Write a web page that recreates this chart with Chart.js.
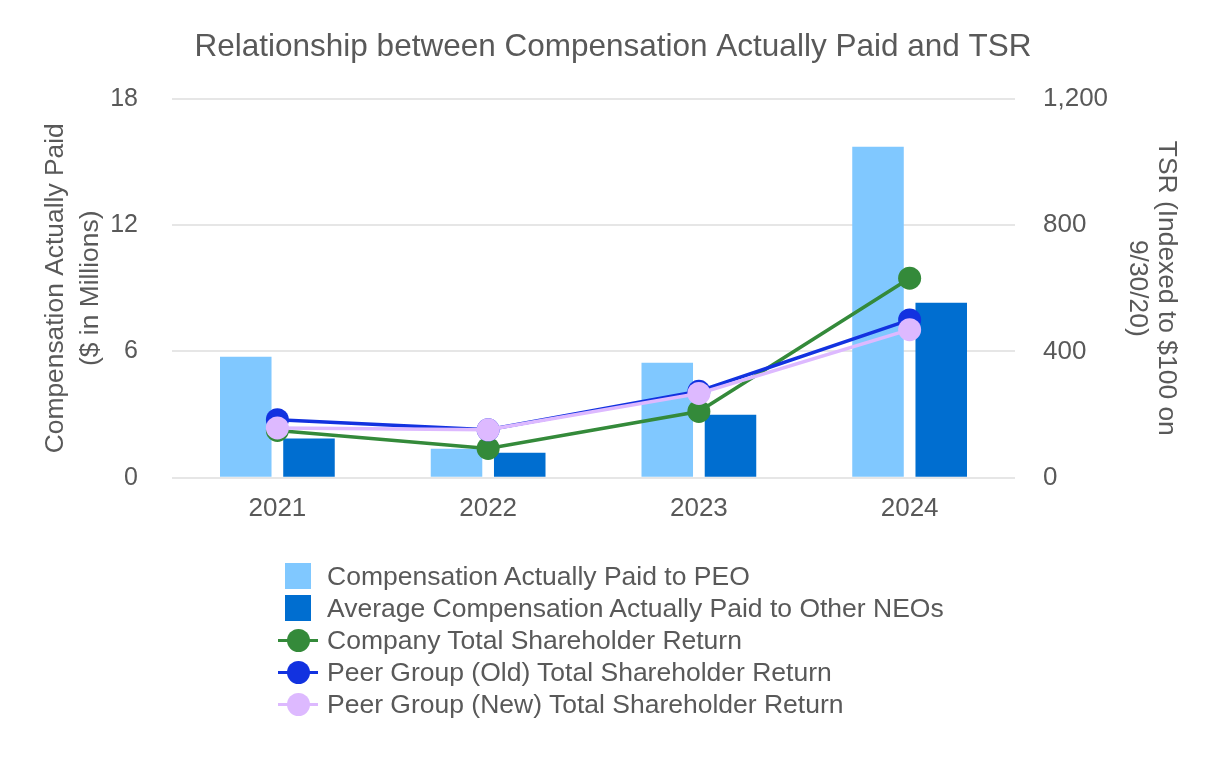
<!DOCTYPE html>
<html>
<head>
<meta charset="utf-8">
<script src="https://cdn.jsdelivr.net/npm/chart.js@4"></script>
<style>
  html, body { margin: 0; padding: 0; background: #fff; }
  #wrap { position: relative; width: 1226px; height: 760px; }
  #legend {
    position: absolute; left: 278px; top: 560.5px;
    font-family: 'Liberation Sans', Arial, sans-serif; font-size: 26.5px; color: #595959;
  }
  .item { display: flex; align-items: center; height: 31.9px; white-space: nowrap; }
  .mark { position: relative; width: 40px; height: 30px; margin-right: 9px; }
  .box { position: absolute; left: 7px; top: 2px; width: 26px; height: 26px; }
  .ln { position: absolute; left: 0; top: 13.5px; width: 40px; height: 3px; }
  .dot { position: absolute; left: 8.5px; top: 3.5px; width: 23px; height: 23px; border-radius: 50%; }
</style>
</head>
<body>
<div id="wrap">
  <canvas id="chart" width="1226" height="760"></canvas>
  <div id="legend"></div>
</div>
<script>
// ---- Data ----
const years = ['2021', '2022', '2023', '2024'];
const peoPaid = [5.75, 1.38, 5.46, 15.72];        // $M
const neoPaid = [1.87, 1.19, 2.99, 8.31];         // $M
const companyTSR = [150, 93, 210, 632];
const peerOldTSR = [184, 152, 274, 500];
const peerNewTSR = [158, 152, 267, 469];

const grey = '#595959';
const font = "'Liberation Sans', Arial, sans-serif";

function lineSet(label, data, color, order) {
  return {
    type: 'line', label, data, yAxisID: 'y1', order,
    borderColor: color, backgroundColor: color,
    borderWidth: 3.5, pointRadius: 11.5, pointHoverRadius: 11.5,
    pointBorderWidth: 0, tension: 0
  };
}

const datasets = [
  { type: 'bar', label: 'Compensation Actually Paid to PEO', data: peoPaid,
    backgroundColor: '#80C8FF', yAxisID: 'y', order: 3 },
  { type: 'bar', label: 'Average Compensation Actually Paid to Other NEOs', data: neoPaid,
    backgroundColor: '#006ED0', yAxisID: 'y', order: 4 },
  lineSet('Company Total Shareholder Return', companyTSR, '#348A3A', 2),
  lineSet('Peer Group (Old) Total Shareholder Return', peerOldTSR, '#1232E0', 1),
  lineSet('Peer Group (New) Total Shareholder Return', peerNewTSR, '#DDB9FF', 0)
];

const chart = new Chart(document.getElementById('chart'), {
  data: { labels: years, datasets },
  options: {
    responsive: false,
    animation: false,
    layout: { padding: { left: 0, right: 0, top: 0, bottom: 221 } },
    datasets: { bar: { categoryPercentage: 0.6, barPercentage: 0.815 } },
    plugins: {
      legend: { display: false },
      tooltip: { enabled: false },
      title: {
        display: true,
        text: 'Relationship between Compensation Actually Paid and TSR',
        color: grey,
        font: { family: font, size: 31.5, weight: 'normal' },
        padding: { top: 28, bottom: 33 }
      }
    },
    scales: {
      x: {
        grid: { display: false, drawTicks: false },
        border: { display: false },
        ticks: { color: grey, font: { family: font, size: 26 }, padding: 15 }
      },
      y: {
        position: 'left', min: 0, max: 18,
        ticks: { stepSize: 6, color: grey, font: { family: font, size: 25 }, padding: 34 },
        grid: { color: '#E6E6E6', lineWidth: 2, drawTicks: false },
        border: { display: false },
        title: {
          display: true, text: ['Compensation Actually Paid', '($ in Millions)'],
          color: grey, font: { family: font, size: 26.4, lineHeight: 1.3 },
          padding: { top: 39, bottom: 0 }
        },
        afterFit: s => { s.width = 172; }
      },
      y1: {
        position: 'right', min: 0, max: 1200,
        ticks: {
          stepSize: 400, color: grey, font: { family: font, size: 26 }, padding: 28,
          callback: v => v.toLocaleString('en-US')
        },
        grid: { display: false, drawTicks: false },
        border: { display: false },
        title: {
          display: true, text: ['TSR (Indexed to $100 on', '9/30/20)'],
          color: grey, font: { family: font, size: 26.4, lineHeight: 1.1 },
          padding: { top: 45, bottom: 0 }
        },
        afterFit: s => { s.width = 211; }
      }
    }
  }
});

// ---- HTML legend, one entry per row ----
const legendEl = document.getElementById('legend');
chart.data.datasets.forEach(ds => {
  const row = document.createElement('div');
  row.className = 'item';
  const mark = document.createElement('div');
  mark.className = 'mark';
  if (ds.type === 'bar') {
    mark.innerHTML = '<div class="box" style="background:' + ds.backgroundColor + '"></div>';
  } else {
    mark.innerHTML = '<div class="ln" style="background:' + ds.borderColor + '"></div>' +
      '<div class="dot" style="background:' + ds.backgroundColor + '"></div>';
  }
  const txt = document.createElement('span');
  txt.textContent = ds.label;
  row.appendChild(mark);
  row.appendChild(txt);
  legendEl.appendChild(row);
});
</script>
</body>
</html>
